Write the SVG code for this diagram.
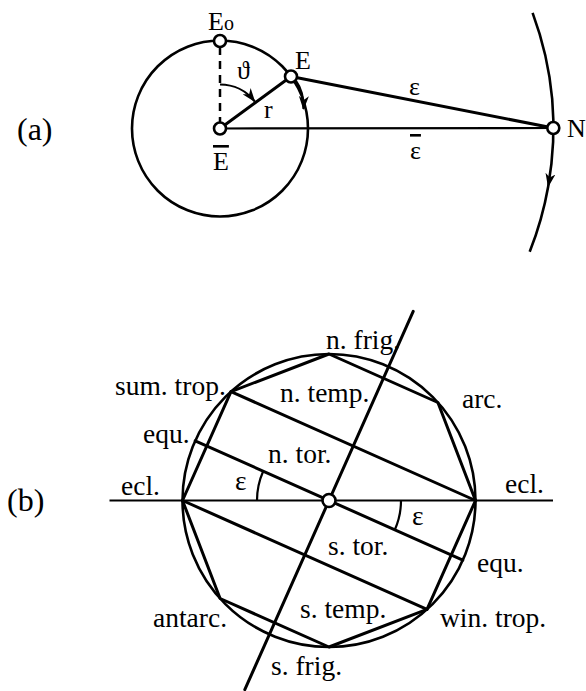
<svg xmlns="http://www.w3.org/2000/svg" width="586" height="691" viewBox="0 0 586 691">
<style>
  text { font-family: "Liberation Serif", "DejaVu Serif", serif; font-size: 26px; fill: #000; }
  .panel { font-size: 32px; }
  .lb { font-size: 27.5px; }
  .ln { fill: none; stroke: #000; stroke-width: 3; stroke-linecap: round; stroke-linejoin: round; }
  .thin { fill: none; stroke: #000; stroke-width: 2.2; }
  .circ { fill: none; stroke: #000; stroke-width: 2.6; }
  .pt { fill: #fff; stroke: #000; stroke-width: 2.6; }
  .ov { text-decoration: overline; }
</style>
<defs>
  <marker id="ah" viewBox="0 0 14 10" refX="13" refY="5" markerWidth="14" markerHeight="10" markerUnits="userSpaceOnUse" orient="auto">
    <path d="M0,0 L14,5 L0,10 L4,5 Z" fill="#000"/>
  </marker>
</defs>

<!-- Panel (a) -->
<text class="panel" x="17" y="139.5">(a)</text>
<g id="connectors-a">
  <circle class="circ" cx="220" cy="128.5" r="88"/>
  <line x1="220" y1="47" x2="220" y2="122" stroke="#000" stroke-width="2.5" stroke-dasharray="8 6"/>
  <line class="ln" x1="220" y1="128.5" x2="291" y2="76.5"/>
  <line class="thin" x1="220" y1="128.5" x2="553.3" y2="128"/>
  <line class="ln" x1="291" y1="76.5" x2="553.3" y2="128" stroke-width="2.8"/>
  <path class="thin" d="M220,84.5 A44,44 0 0 1 254.7,101.4" marker-end="url(#ah)"/>
  <path class="thin" d="M296,81 Q304,92 303.5,109" marker-end="url(#ah)"/>
  <path class="circ" d="M532.6,12.9 A333.3,333.3 0 0 1 548.2,186.4 A333.3,333.3 0 0 1 529.7,251.7" marker-mid="url(#ah)"/>
</g>
<g id="node-E0">
  <circle class="pt" cx="220" cy="41" r="6"/>
  <text x="208" y="30">E<tspan font-size="20">o</tspan></text>
</g>
<g id="node-E">
  <circle class="pt" cx="291" cy="76.5" r="6"/>
  <text x="295" y="69">E</text>
</g>
<g id="node-Ebar">
  <circle class="pt" cx="220" cy="128.5" r="6"/>
  <text class="ov" x="213" y="170">E</text>
</g>
<g id="node-N">
  <circle class="pt" cx="553.3" cy="128" r="6"/>
  <text x="567" y="136.5" font-size="24">N</text>
</g>
<g id="labels-a">
  <text x="237" y="79" font-size="28">ϑ</text>
  <text x="264" y="118">r</text>
  <text x="409" y="95">ε</text>
  <text class="ov" x="410" y="159">ε</text>
</g>

<!-- Panel (b) -->
<text class="panel" x="7" y="511">(b)</text>
<g id="figure-b">
  <circle class="circ" cx="329" cy="500.5" r="146.5"/>
  <line class="thin" x1="109.5" y1="500.5" x2="553" y2="500.5"/>
  <polygon class="ln" points="475.5,500.5 437.9,402.5 329,354 231,391.6 182.5,500.5 220.1,598.5 329,647 427,609.4"/>
  <line class="ln" x1="231" y1="391.6" x2="475.5" y2="500.5"/>
  <line class="ln" x1="182.5" y1="500.5" x2="427" y2="609.4"/>
  <line class="ln" x1="195.2" y1="440.9" x2="462.8" y2="560.1"/>
  <line class="ln" x1="413.2" y1="311.4" x2="244.8" y2="689.6"/>
  <path class="thin" d="M257,500.5 A72,72 0 0 1 263.2,471.2"/>
  <path class="thin" d="M401,500.5 A72,72 0 0 1 394.8,529.8"/>
  <circle class="pt" cx="329" cy="500.5" r="6.5"/>
</g>
<g id="labels-b" class="lb">
  <text class="lb" x="326" y="349">n. frig.</text>
  <text class="lb" x="115" y="395">sum. trop.</text>
  <text class="lb" x="280" y="401.7">n. temp.</text>
  <text class="lb" x="462" y="408">arc.</text>
  <text class="lb" x="143" y="443">equ.</text>
  <text class="lb" x="268" y="463">n. tor.</text>
  <text class="lb" x="121" y="495">ecl.</text>
  <text class="lb" x="505" y="493">ecl.</text>
  <text class="lb" x="235" y="490">ε</text>
  <text class="lb" x="412" y="525">ε</text>
  <text class="lb" x="328" y="555">s. tor.</text>
  <text class="lb" x="477" y="571.7">equ.</text>
  <text class="lb" x="300" y="618">s. temp.</text>
  <text class="lb" x="440" y="627">win. trop.</text>
  <text class="lb" x="153" y="627">antarc.</text>
  <text class="lb" x="271" y="675">s. frig.</text>
</g>
</svg>
